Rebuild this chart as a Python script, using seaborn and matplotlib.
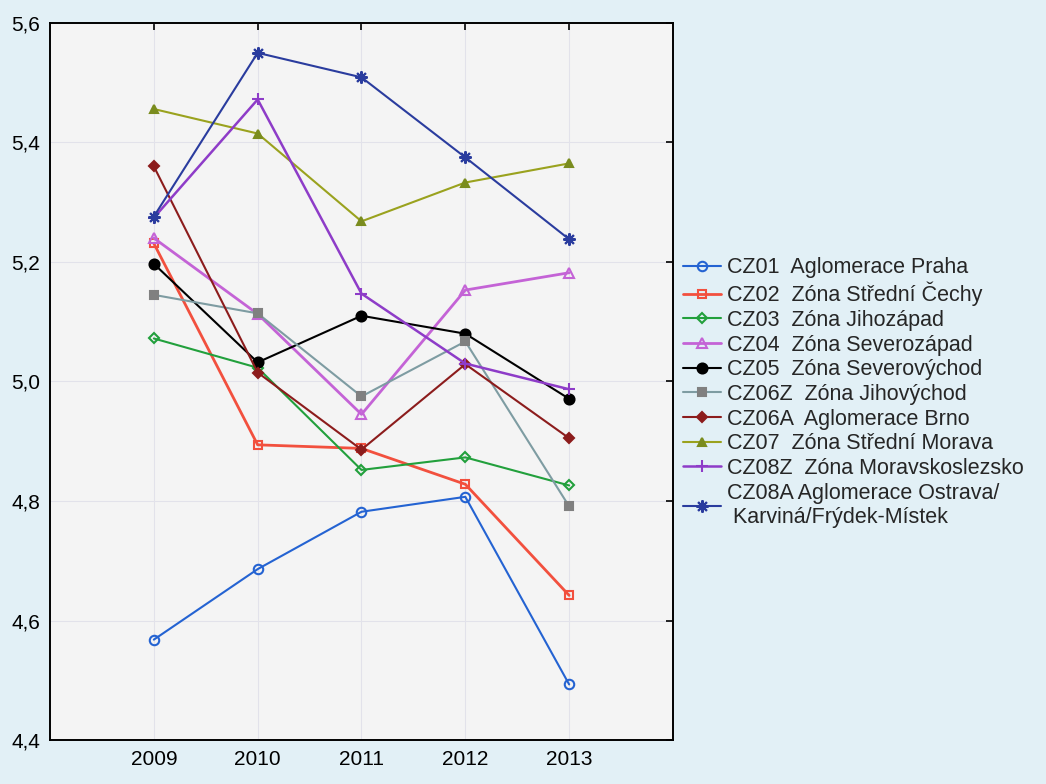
import numpy as np
import pandas as pd
import matplotlib
matplotlib.use("Agg")
import matplotlib.pyplot as plt
from matplotlib.ticker import FuncFormatter
import seaborn as sns

# ── Data ──────────────────────────────────────────────────────────────────────
YEARS = [2009, 2010, 2011, 2012, 2013]

LABELS = [
    "CZ01  Aglomerace Praha",
    "CZ02  Zóna Střední Čechy",
    "CZ03  Zóna Jihozápad",
    "CZ04  Zóna Severozápad",
    "CZ05  Zóna Severovýchod",
    "CZ06Z  Zóna Jihovýchod",
    "CZ06A  Aglomerace Brno",
    "CZ07  Zóna Střední Morava",
    "CZ08Z  Zóna Moravskoslezsko",
    "CZ08A Aglomerace Ostrava/\n Karviná/Frýdek-Místek",
]

cz01 = [4.568, 4.686, 4.782, 4.807, 4.493]
cz02 = [5.231, 4.894, 4.888, 4.828, 4.642]
cz03 = [5.072, 5.023, 4.852, 4.873, 4.826]
cz04 = [5.240, 5.113, 4.945, 5.153, 5.182]
cz05 = [5.197, 5.032, 5.110, 5.080, 4.971]
cz06z = [5.145, 5.114, 4.975, 5.067, 4.791]
cz06a = [5.360, 5.015, 4.886, 5.029, 4.905]
cz07 = [5.456, 5.415, 5.268, 5.333, 5.365]
cz08z = [5.274, 5.472, 5.147, 5.030, 4.987]
cz08a = [5.276, 5.550, 5.509, 5.375, 5.238]

SERIES = [cz01, cz02, cz03, cz04, cz05, cz06z, cz06a, cz07, cz08z, cz08a]

# ── Styles: line colour, marker, marker face, marker edge, size, line width ──
STYLES = [
    ("#2463D2", "o", "none", "#2463D2", 8.5, 1.5),
    ("#F2503E", "s", "none", "#F2503E", 7.5, 2.0),
    ("#22A03C", "D", "none", "#22A03C", 6, 1.5),
    ("#C463D6", "^", "none", "#C463D6", 8.5, 2.0),
    ("#000000", "o", "#000000", "#000000", 9, 1.5),
    ("#7E9CA2", "s", "#808080", "#808080", 8, 1.5),
    ("#8C1C1C", "D", "#8C1C1C", "#8C1C1C", 6.5, 1.5),
    ("#9AA21E", "^", "#7A8C1E", "#7A8C1E", 8, 1.5),
    ("#8E3CC8", "+", "#8E3CC8", "#8E3CC8", 11, 1.8),
    ("#2A3C9E", (8, 2, 0), "#2A3C9E", "#2A3C9E", 11, 1.5),
]

BG = "#E2F0F6"
PLOT_BG = "#F4F4F4"

sns.set_style("white")
plt.rcParams["font.family"] = ["Liberation Sans", "DejaVu Sans"]

fig = plt.figure(figsize=(10.46, 7.84), dpi=100, facecolor=BG)
ax = fig.add_axes([0.0478, 0.0561, 0.5956, 0.9146])
ax.set_facecolor(PLOT_BG)

for vals, label, (lc, mk, mfc, mec, ms, lw) in zip(SERIES, LABELS, STYLES):
    df = pd.DataFrame({"year": YEARS, "value": vals})
    sns.lineplot(data=df, x="year", y="value", ax=ax, color=lc, label=label,
                 marker=mk, markerfacecolor=mfc, markeredgecolor=mec,
                 markersize=ms, markeredgewidth=1.5, linewidth=lw)

ax.set_xlim(2008.0, 2014.0)
ax.set_ylim(4.4, 5.6)
ax.set_xticks(YEARS)
ax.set_yticks(np.arange(4.4, 5.61, 0.2))
ax.yaxis.set_major_formatter(FuncFormatter(lambda v, p: f"{v:.1f}".replace(".", ",")))
ax.set_xlabel("")
ax.set_ylabel("")
ax.grid(True, color="#E2E2EA", linewidth=0.8)
ax.set_axisbelow(True)
for s in ax.spines.values():
    s.set_visible(True)
    s.set_color("#000000")
    s.set_linewidth(1.4)
ax.tick_params(axis="both", direction="in", length=5, width=1.2,
               top=True, right=True, labelsize=15, colors="#000000", pad=7)

handles, labels = ax.get_legend_handles_labels()
for h in handles:
    h.set_markersize(h.get_markersize() * 0.8)
ax.legend(handles, labels, loc="upper left", bbox_to_anchor=(0.653, 0.672),
          bbox_transform=fig.transFigure, frameon=False, fontsize=15.5,
          handlelength=1.75, handletextpad=0.3, labelspacing=0.17,
          borderaxespad=0, borderpad=0)

fig.savefig("out.png", dpi=100, facecolor=BG)
plt.close(fig)
